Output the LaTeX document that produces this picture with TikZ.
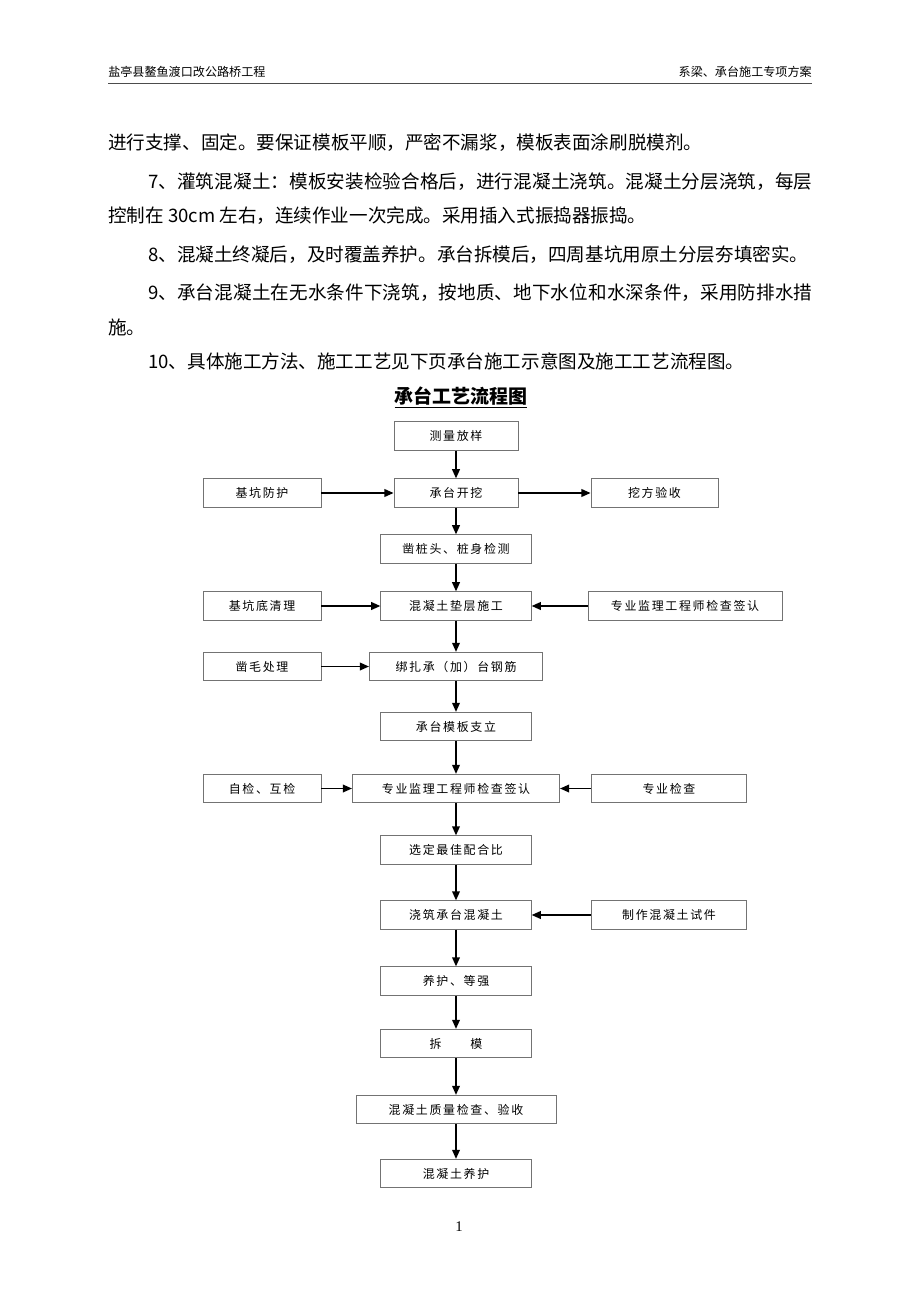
\documentclass[tikz,border=0pt]{standalone}
\usepackage{fontspec}
\setmainfont{Noto Sans CJK SC}
\newfontfamily\boxfont[LetterSpace=14]{Noto Sans CJK SC}
\newfontfamily\pagefont{Liberation Serif}
\usetikzlibrary{arrows.meta}
\XeTeXlinebreaklocale "zh"
\XeTeXlinebreakskip=0pt plus 1pt
\newcommand{\justline}[2]{\parbox{#1}{\tolerance=10000\parfillskip=0pt\relax #2\par}}

\begin{document}
\begin{tikzpicture}[x=0.025cm,y=-0.025cm,
    headtext/.style={inner sep=0pt,font=\fontsize{8.6}{10}\selectfont},
    bodytext/.style={anchor=west,inner sep=0pt,font=\fontsize{13.2}{16}\selectfont},
    stepbox/.style={draw=black!55,line width=0.5pt,minimum height=0.71cm,inner sep=0pt,
      font=\boxfont\fontsize{8.5}{10}\selectfont},
    flowarrow/.style={-{Triangle[length=2.3mm,width=1.9mm]},line width=1.3pt}]
    \fill[white] (0,0) rectangle (920,1302);
    \useasboundingbox (0,0) rectangle (920,1302);

    \node[headtext,anchor=west] (hleft) at (108,72) {盐亭县鳌鱼渡口改公路桥工程};
    \node[headtext,anchor=east] (hright) at (812,72) {系梁、承台施工专项方案};
    \draw[line width=1.3pt,black!70] (108,83.5) -- (812,83.5);

    \node[bodytext] (line1) at (108,143) {进行支撑、固定。要保证模板平顺，严密不漏浆，模板表面涂刷脱模剂。};
    \node[bodytext] (line2) at (148,182) {\justline{16.6cm}{7、灌筑混凝土：模板安装检验合格后，进行混凝土浇筑。混凝土分层浇筑，每层}};
    \node[bodytext] (line3) at (108,216) {控制在 30cm 左右，连续作业一次完成。采用插入式振捣器振捣。};
    \node[bodytext] (line4) at (148,255) {8、混凝土终凝后，及时覆盖养护。承台拆模后，四周基坑用原土分层夯填密实。};
    \node[bodytext] (line5) at (148,293) {\justline{16.6cm}{9、承台混凝土在无水条件下浇筑，按地质、地下水位和水深条件，采用防排水措}};
    \node[bodytext] (line6) at (108,327) {施。};
    \node[bodytext] (line7) at (148,361) {10、具体施工方法、施工工艺见下页承台施工示意图及施工工艺流程图。};

    \node[inner sep=0pt,font=\bfseries\fontsize{13.5}{16}\selectfont] (title) at (461,397) {\underline{承台工艺流程图}};

    \node[stepbox,minimum width=3.1cm] (survey) at (456,436) {测量放样};
    \node[stepbox,minimum width=2.95cm] (pitguard) at (262,493) {基坑防护};
    \node[stepbox,minimum width=3.1cm] (excavate) at (456,493) {承台开挖};
    \node[stepbox,minimum width=3.175cm] (excheck) at (654.5,493) {挖方验收};
    \node[stepbox,minimum width=3.76cm] (pilehead) at (456,549) {凿桩头、桩身检测};
    \node[stepbox,minimum width=2.95cm] (pitclean) at (262,606) {基坑底清理};
    \node[stepbox,minimum width=3.76cm] (cushion) at (456,606) {混凝土垫层施工};
    \node[stepbox,minimum width=4.85cm] (signoffa) at (685,606) {专业监理工程师检查签认};
    \node[stepbox,minimum width=2.95cm] (roughen) at (262,666.5) {凿毛处理};
    \node[stepbox,minimum width=4.33cm] (rebar) at (456,666.5) {绑扎承（加）台钢筋};
    \node[stepbox,minimum width=3.76cm] (formwork) at (456,726.5) {承台模板支立};
    \node[stepbox,minimum width=2.95cm] (selfcheck) at (262,788.5) {自检、互检};
    \node[stepbox,minimum width=5.18cm] (signoffb) at (456,788.5) {专业监理工程师检查签认};
    \node[stepbox,minimum width=3.89cm] (specheck) at (669,788.5) {专业检查};
    \node[stepbox,minimum width=3.76cm] (mixratio) at (456,850) {选定最佳配合比};
    \node[stepbox,minimum width=3.76cm] (pour) at (456,915) {浇筑承台混凝土};
    \node[stepbox,minimum width=3.89cm] (specimen) at (669,915) {制作混凝土试件};
    \node[stepbox,minimum width=3.76cm] (cure) at (456,981) {养护、等强};
    \node[stepbox,minimum width=3.76cm] (strip) at (456,1043.5) {拆　　模};
    \node[stepbox,minimum width=5.0cm] (quality) at (456,1109.5) {混凝土质量检查、验收};
    \node[stepbox,minimum width=3.76cm] (finalcure) at (456,1173.5) {混凝土养护};

    \draw[flowarrow] (survey) -- (excavate);
    \draw[flowarrow] (excavate) -- (pilehead);
    \draw[flowarrow] (pilehead) -- (cushion);
    \draw[flowarrow] (cushion) -- (rebar);
    \draw[flowarrow] (rebar) -- (formwork);
    \draw[flowarrow] (formwork) -- (signoffb);
    \draw[flowarrow] (signoffb) -- (mixratio);
    \draw[flowarrow] (mixratio) -- (pour);
    \draw[flowarrow] (pour) -- (cure);
    \draw[flowarrow] (cure) -- (strip);
    \draw[flowarrow] (strip) -- (quality);
    \draw[flowarrow] (quality) -- (finalcure);

    \draw[flowarrow] (pitguard) -- (excavate);
    \draw[flowarrow] (excavate) -- (excheck);
    \draw[flowarrow] (pitclean) -- (cushion);
    \draw[flowarrow] (signoffa) -- (cushion);
    \draw[flowarrow] (roughen) -- (rebar);
    \draw[flowarrow] (selfcheck) -- (signoffb);
    \draw[flowarrow] (specheck) -- (signoffb);
    \draw[flowarrow] (specimen) -- (pour);

    \node[inner sep=0pt,font=\pagefont\fontsize{10.5}{12}\selectfont] (pageno) at (459,1227) {1};
\end{tikzpicture}
\end{document}
